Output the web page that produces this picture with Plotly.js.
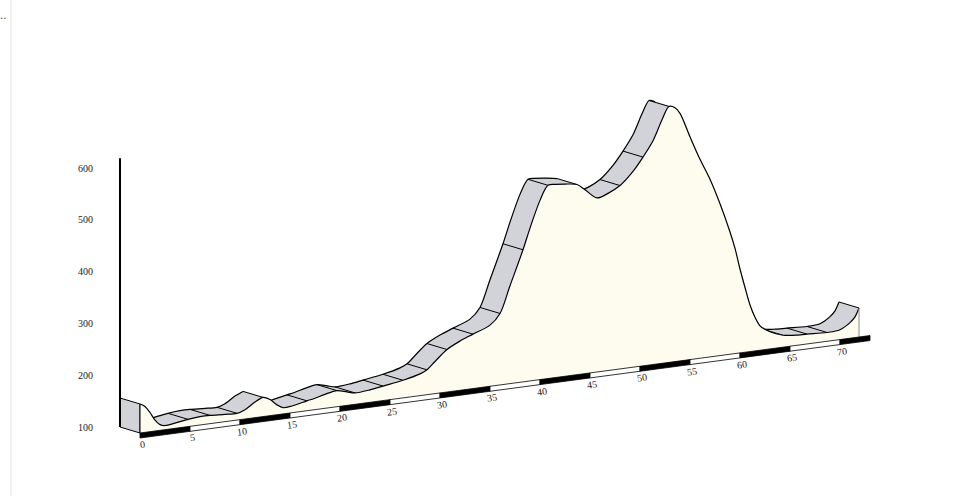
<!DOCTYPE html>
<html><head><meta charset="utf-8">
<script src="https://cdn.plot.ly/plotly-3.0.1.min.js"></script>
<style>html,body{margin:0;padding:0;background:#fff}#chart{width:960px;height:496px}</style>
</head><body><div id="chart"></div>
<script>
// ---- data ----
const km   = [0, 0.5, 1, 1.5, 2, 2.5, 3.5, 4.8, 6, 7, 8.5, 9.7, 10.5, 11.5, 12.3, 13, 13.7, 14.3, 15.2, 16.7, 17.5, 18.5, 19.7, 20.7, 21.5, 23, 24.3, 26.3, 28, 28.7, 29.5, 30.7, 32, 33.3, 35, 36, 37, 38.3, 39, 40, 40.8, 41.5, 42.5, 43.7, 44.5, 45.7, 46.8, 48, 49.3, 50.3, 51.3, 52.2, 52.9, 53.5, 54, 55, 56, 57, 58, 59, 59.5, 60, 60.5, 61, 61.5, 62, 63, 64.3, 65.5, 66.7, 68.7, 70, 71, 71.5, 71.9];
const elev = [156, 150, 137, 121, 111, 108, 110, 114, 116, 116, 114, 113, 118, 130, 137, 131, 119, 112, 113, 119, 122, 127, 131, 126, 122, 124, 128, 134, 142, 148, 162, 182, 195, 205, 218, 238, 289, 355, 395, 446, 473, 473, 471, 467, 455, 436, 442, 454, 478, 503, 532, 570, 594, 590, 578, 530, 484, 443, 393, 336, 303, 262, 225, 190, 165, 147, 133, 123, 120, 119, 117, 119, 130, 140, 156];
const dividerKm = [4.8, 7, 9.7, 12.3, 16.7, 19.7, 21.5, 24.3, 26.3, 28.7, 30.7, 33.3, 36, 38.3, 40.8, 43.7, 48, 50.3, 52.9, 64.3, 66.7, 68.7, 71.9];
const tickKm = [0, 5, 10, 15, 20, 25, 30, 35, 40, 45, 50, 55, 60, 65, 70];
const tickText = ["0","5","10","15","20","25","30","35","40","45","50","55","60","65","70"];
const elevTicks = [100, 200, 300, 400, 500, 600];
const elevTickText = ["100","200","300","400","500","600"];
const stripEndKm = 73;
const baseElev = 100;
const axisTopElev = 619;

// ---- projection (pseudo-3D look) ----
const PX_KM = 10, PX_M = 0.518, SLOPE = 1.335, DX = 20, DY = 6, STRIP = 5;
function back(d, e){ return [d - DX / PX_KM, e + SLOPE * d / PX_M]; }
function front(d, e){ return [d, e + (SLOPE * d - DY) / PX_M]; }
function eAt(d){ return elev[km.indexOf(d)]; }

const RIB = '#d2d3d8', CREAM = '#fefcef';
const traces = [];

// ribbon (top surface) quads
{
  const X = [], Y = [];
  for (let i = 0; i < km.length - 1; i++) {
    let q = [back(km[i], elev[i]), back(km[i+1], elev[i+1]), front(km[i+1], elev[i+1]), front(km[i], elev[i])];
    let a = 0;
    for (let j = 0; j < 4; j++) { const p = q[j], r = q[(j+1)%4]; a += p[0]*PX_KM*r[1]*PX_M - r[0]*PX_KM*p[1]*PX_M; }
    if (a < 0) q = q.reverse();
    q.forEach(p => { X.push(p[0]); Y.push(p[1]); });
    X.push(null); Y.push(null);
  }
  traces.push({x: X, y: Y, mode: 'lines', fill: 'toself', fillcolor: RIB, line: {width: 0.8, color: RIB}, hoverinfo: 'skip', showlegend: false});
}
// visible back edge
{
  const X = [], Y = [];
  let prevVis = false;
  for (let i = 0; i < km.length - 1; i++) {
    const dd = km[i+1] - km[i], de = elev[i+1] - elev[i];
    const descent = -de * PX_M - SLOPE * dd;
    const vis = descent < (DY / DX) * dd * PX_KM;
    if (vis) {
      if (!prevVis) { const p = back(km[i], elev[i]); X.push(p[0]); Y.push(p[1]); }
      const p = back(km[i+1], elev[i+1]); X.push(p[0]); Y.push(p[1]);
    } else if (prevVis) { X.push(null); Y.push(null); }
    prevVis = vis;
  }
  traces.push({x: X, y: Y, mode: 'lines', line: {color: '#000', width: 1.2, shape: 'spline', smoothing: 0.8}, connectgaps: false, hoverinfo: 'skip', showlegend: false});
}
// divider lines
{
  const X = [], Y = [];
  dividerKm.forEach(d => { const e = eAt(d); const b = back(d, e), f = front(d, e); X.push(b[0], f[0], null); Y.push(b[1], f[1], null); });
  traces.push({x: X, y: Y, mode: 'lines', line: {color: '#000', width: 1}, hoverinfo: 'skip', showlegend: false});
}
// left end cap
{
  const e0 = elev[0];
  const pts = [back(0, baseElev), back(0, e0), front(0, e0), front(0, baseElev), back(0, baseElev)];
  traces.push({x: pts.map(p=>p[0]), y: pts.map(p=>p[1]), mode: 'lines', fill: 'toself', fillcolor: RIB, line: {color: '#000', width: 1}, hoverinfo: 'skip', showlegend: false});
}
// front face
{
  const kEnd = km[km.length - 1];
  const b0 = front(0, baseElev), b1 = front(kEnd, baseElev);
  traces.push({x: [b0[0], b1[0]], y: [b0[1], b1[1]], mode: 'lines', line: {width: 0, color: CREAM}, hoverinfo: 'skip', showlegend: false});
  traces.push({x: km.map((d,i)=>front(d, elev[i])[0]), y: km.map((d,i)=>front(d, elev[i])[1]), mode: 'lines', fill: 'tonexty', fillcolor: CREAM, line: {color: '#000', width: 1.2, shape: 'spline', smoothing: 0.9}, hoverinfo: 'skip', showlegend: false});
  const t = front(kEnd, elev[elev.length-1]);
  traces.push({x: [t[0], b1[0]], y: [t[1], b1[1]], mode: 'lines', line: {color: '#8a8a8a', width: 1}, hoverinfo: 'skip', showlegend: false});
  traces.push({x: [b0[0], b0[0]], y: [b0[1], front(0, elev[0])[1]], mode: 'lines', line: {color: '#000', width: 1}, hoverinfo: 'skip', showlegend: false});
}
// distance strip
{
  const bounds = tickKm.concat([stripEndKm]);
  for (let i = 0; i < bounds.length - 1; i++) {
    const d0 = bounds[i], d1 = bounds[i+1];
    const s = STRIP / PX_M;
    const p = [front(d0, baseElev), front(d1, baseElev)];
    const X = [p[0][0], p[1][0], p[1][0], p[0][0], p[0][0]];
    const Y = [p[0][1], p[1][1], p[1][1] - s, p[0][1] - s, p[0][1]];
    traces.push({x: X, y: Y, mode: 'lines', fill: 'toself', fillcolor: i % 2 === 0 ? '#000' : '#fff', line: {color: '#000', width: 0.8}, hoverinfo: 'skip', showlegend: false});
  }
}
// vertical elevation axis line
traces.push({x: [back(0, baseElev)[0], back(0, axisTopElev)[0]], y: [back(0, baseElev)[1], back(0, axisTopElev)[1]], mode: 'lines', line: {color: '#000', width: 2}, hoverinfo: 'skip', showlegend: false});

const ang = -Math.atan(SLOPE / PX_KM) * 180 / Math.PI;
const annotations = tickKm.map((d, i) => {
  const p = front(d, baseElev);
  return {x: p[0] + 0.2, y: p[1] - 11.5 / PX_M, text: tickText[i], showarrow: false, textangle: ang, xanchor: 'center', yanchor: 'middle', font: {family: 'Liberation Serif, serif', size: 10, color: '#222'}};
});
const PW = 820, PH = 446;
annotations.push({xref: 'paper', yref: 'paper', x: (3 - 100) / PW, y: (466 - 15) / PH, text: '..', showarrow: false, xanchor: 'center', yanchor: 'middle', font: {family: 'DejaVu Sans', size: 10, color: '#333'}});

const layout = {
  width: 960, height: 496,
  margin: {l: 100, r: 40, t: 20, b: 30},
  paper_bgcolor: '#fff', plot_bgcolor: '#fff',
  showlegend: false,
  xaxis: {range: [-4, 78], visible: false, fixedrange: true},
  yaxis: {range: [100 - 39 / PX_M, 100 + 407 / PX_M], tickvals: elevTicks, ticktext: elevTickText, showgrid: false, zeroline: false, showline: false, ticks: 'outside', ticklen: 4, tickcolor: 'rgba(0,0,0,0)', tickfont: {family: 'Liberation Serif, serif', size: 10, color: '#222'}, fixedrange: true},
  annotations: annotations,
  shapes: [{type: 'line', xref: 'paper', yref: 'paper', x0: (11 - 100) / PW, x1: (11 - 100) / PW, y0: -30 / PH, y1: 466 / PH, line: {color: '#e3e3e3', width: 1}}]
};
Plotly.newPlot('chart', traces, layout, {displayModeBar: false, staticPlot: true});
</script></body></html>
